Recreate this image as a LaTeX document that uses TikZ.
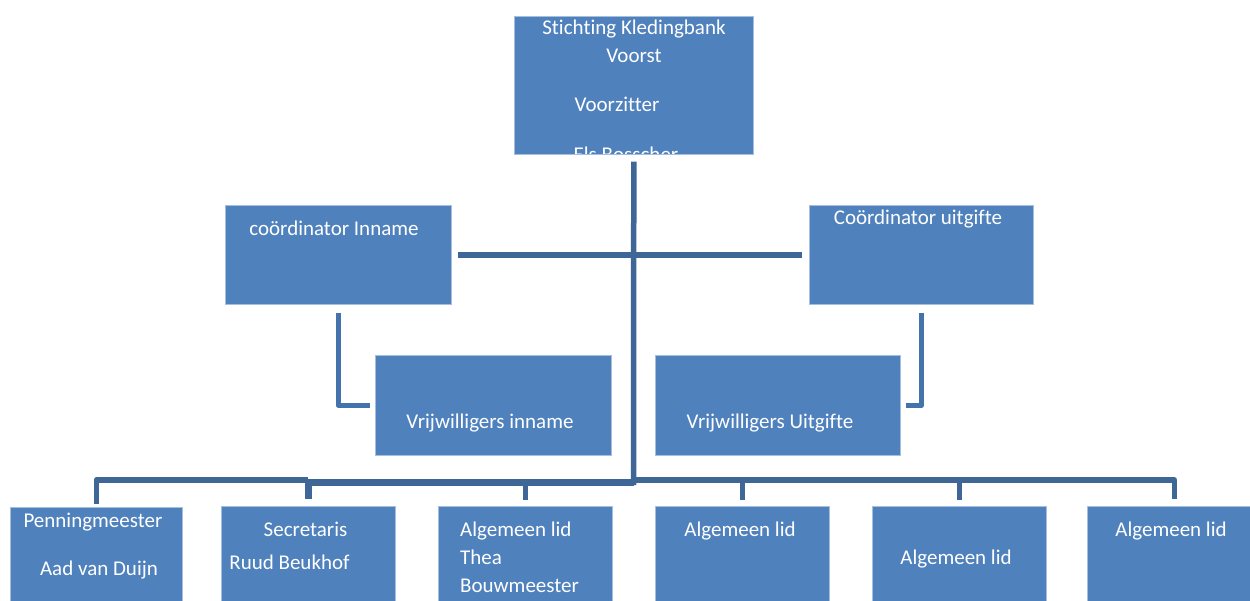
\documentclass[tikz,border=0pt]{standalone}
\usepackage{fontspec}
\setmainfont{Carlito}[Ligatures=NoCommon]
\definecolor{boxblue}{HTML}{4F81BD}
\definecolor{boxedge}{HTML}{A7BFDE}
\definecolor{connblue}{HTML}{3E6797}
\definecolor{brkblue}{HTML}{4472AA}
\begin{document}
\begin{tikzpicture}[x=1bp,y=-1bp,
  box/.style={draw=boxedge, line width=0.6bp, fill=boxblue, inner sep=0pt, anchor=north west},
  lbl/.style={text=white, inner sep=0pt, anchor=base, font=\fontsize{21bp}{26bp}\selectfont},
  lbll/.style={lbl, anchor=base west},
  conn/.style={draw=connblue, line width=5.5bp, line join=round},
  brk/.style={draw=brkblue, line width=5bp, line join=round}]
\useasboundingbox (0,0) rectangle (1250,601);
\clip (0,0) rectangle (1250,601);

% boxes
\node[box, minimum width=239bp, minimum height=138bp] (top) at (514,16) {};
\node[box, minimum width=226bp, minimum height=99bp] (ci) at (225,205) {};
\node[box, minimum width=224bp, minimum height=99bp] (cu) at (809,205) {};
\node[box, minimum width=236bp, minimum height=100bp] (vi) at (375,355) {};
\node[box, minimum width=245bp, minimum height=100bp] (vu) at (655,355) {};
\node[box, minimum width=172bp, minimum height=100bp] (pm) at (10,507) {};
\node[box, minimum width=174bp, minimum height=100bp] (sec) at (221,506) {};
\node[box, minimum width=174bp, minimum height=100bp] (thea) at (438,506) {};
\node[box, minimum width=174bp, minimum height=100bp] (a1) at (655,506) {};
\node[box, minimum width=174bp, minimum height=100bp] (a2) at (872,506) {};
\node[box, minimum width=174bp, minimum height=100bp] (a3) at (1087,506) {};

% top box texts (clipped by the box)
\begin{scope}
  \clip (514,16) rectangle (753,154);
  \node[lbl] (t1) at (634,35) {Stichting Kledingbank};
  \node[lbl] (t2) at (634,63) {Voorst};
  \node[lbl] (t3) at (617,112) {Voorzitter};
  \node[lbl] (t4) at (626,162) {Els Bosscher};
\end{scope}

% other texts
\node[lbl] (tci) at (334,236) {coördinator Inname};
\node[lbl] (tcu) at (918,225) {Coördinator uitgifte};
\node[lbl] (tvi) at (490,428) {Vrijwilligers inname};
\node[lbl] (tvu) at (770,428) {Vrijwilligers Uitgifte};
\node[lbl] (tpm1) at (93,527) {Penningmeester};
\node[lbl] (tpm2) at (99,575) {Aad van Duijn};
\node[lbl] (tsec1) at (305.5,536) {Secretaris};
\node[lbl] (tsec2) at (289.5,569) {Ruud Beukhof};
\node[lbll] (tth1) at (460,536) {Algemeen lid};
\node[lbll] (tth2) at (460,564) {Thea};
\node[lbll] (tth3) at (460,592) {Bouwmeester};
\node[lbl] (ta1) at (740,536) {Algemeen lid};
\node[lbl] (ta2) at (956,564) {Algemeen lid};
\node[lbl] (ta3) at (1171,536) {Algemeen lid};

% connectors
\coordinate (jbot) at (633.5,485);
\coordinate (busL) at (633.5,482);
\coordinate (busR) at (633.5,480);
\draw[conn] ([yshift=-7bp]top.south) -- (jbot);
\draw[conn] ([xshift=6bp]ci.east) -- ([xshift=-7bp]cu.west);
\draw[brk] ([yshift=-8bp]ci.south) |- ([xshift=-5bp]vi.west);
\draw[brk] ([yshift=-8bp]cu.south) |- ([xshift=5bp]vu.east);
\draw[conn, line width=7bp] (busL) -- (busL -| sec.north) -- ([yshift=7bp]sec.north);
\draw[conn] ([yshift=2bp]busL -| sec.north) -| ([yshift=3bp]pm.north);
\draw[conn] (busL -| thea.north) -- ([yshift=6bp]thea.north);
\draw[conn] (busR) -| ([yshift=7bp]a3.north);
\draw[conn] (busR -| a1.north) -- ([yshift=6bp]a1.north);
\draw[conn] (busR -| a2.north) -- ([yshift=6bp]a2.north);
\end{tikzpicture}
\end{document}
